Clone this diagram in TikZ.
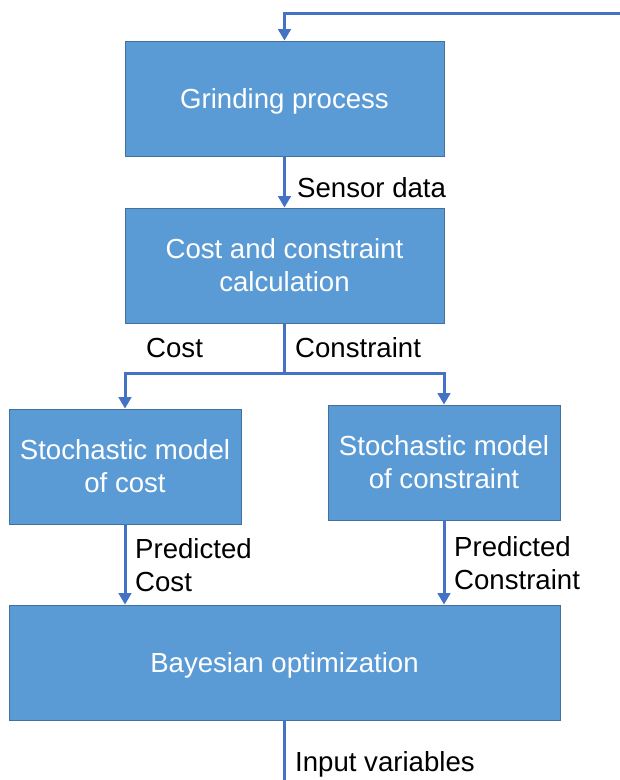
\documentclass[tikz,border=0pt]{standalone}
\usepackage{fontspec}
\setmainfont{Liberation Sans}
\usetikzlibrary{arrows.meta}
\definecolor{boxfill}{HTML}{5B9BD5}
\definecolor{boxedge}{HTML}{41719C}
\definecolor{flowline}{HTML}{4472C4}
\begin{document}
\begin{tikzpicture}[x=1pt,y=-1pt,
  every node/.style={font=\fontsize{27.6}{33}\selectfont},
  procbox/.style={draw=boxedge,line width=0.8pt,fill=boxfill,text=white,
    align=center,inner sep=0pt,minimum height=115pt,
    execute at begin node={\rule{0pt}{26pt}}},
  wire/.style={draw=flowline,line width=3pt},
  flow/.style={wire,-{Triangle[width=12.5pt,length=11.5pt]}},
  lbl/.style={inner sep=0pt,align=left,text=black}]
\useasboundingbox (0,0) rectangle (620,780);

% process blocks
\node[procbox,minimum width=319pt] (grind) at (284.5,98.5) {Grinding process};
\node[procbox,minimum width=319pt] (calc) at (284.5,265.5) {Cost and constraint\\calculation};
\node[procbox,minimum width=232pt] (smcost) at (125,466.5) {Stochastic model\\of cost};
\node[procbox,minimum width=232pt] (smcon) at (444,462.5) {Stochastic model\\of constraint};
\node[procbox,minimum width=551pt] (bayes) at (284.5,662.5) {Bayesian optimization};

% helper points
\coordinate (feedin) at (620,13);
\coordinate (split) at (284.5,373);
\coordinate (outend) at (284.5,780);

% connectors
\draw[flow] (feedin) -| (grind.north);
\draw[flow] (grind.south) -- (calc.north);
\draw[wire] (calc.south) -- (split);
\draw[flow] (split) -| (smcost.north);
\draw[flow] (split) -| (smcon.north);
\draw[flow] (smcost.south) -- (smcost.south |- bayes.north);
\draw[flow] (smcon.south) -- (smcon.south |- bayes.north);
\draw[wire] (bayes.south) -- (outend);

% connector labels
\node[lbl,anchor=base west] (lsensor) at (297,197) {Sensor data};
\node[lbl,anchor=base west] (lcost) at (146,357) {Cost};
\node[lbl,anchor=base west] (lcons) at (295,357) {Constraint};
\node[lbl,anchor=north west] (lpcost) at (135,538) {Predicted\\Cost};
\node[lbl,anchor=north west] (lpcons) at (454,536) {Predicted\\Constraint};
\node[lbl,anchor=base west] (linput) at (295,771) {Input variables};
\end{tikzpicture}
\end{document}
